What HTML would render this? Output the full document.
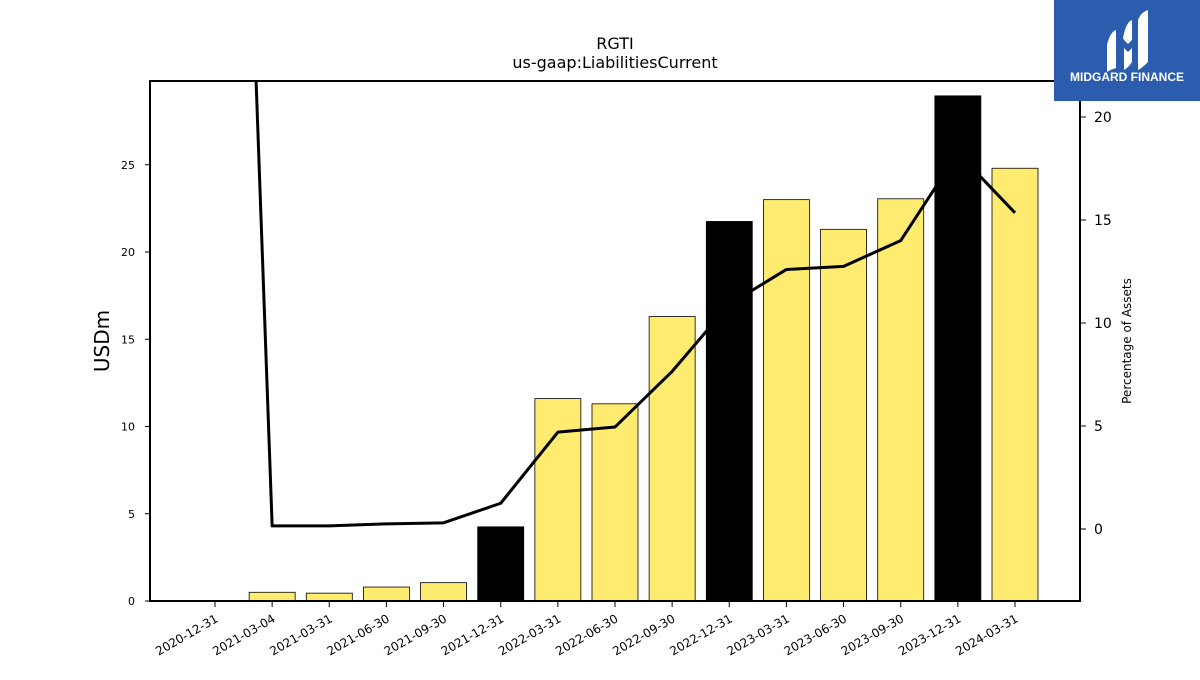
<!DOCTYPE html>
<html><head><meta charset="utf-8"><style>
body{margin:0;background:#fff;width:1200px;height:675px;overflow:hidden;font-family:"Liberation Sans","DejaVu Sans",sans-serif}
</style></head><body>
<svg id="chart" width="1200" height="675" xmlns="http://www.w3.org/2000/svg" font-family="DejaVu Sans, Liberation Sans, sans-serif">
<text x="615" y="49" text-anchor="middle" font-size="16">RGTI</text>
<text x="615" y="68" text-anchor="middle" font-size="16">us-gaap:LiabilitiesCurrent</text>
<g id="yellowBars"></g><g id="line"></g><g id="blackBars"></g><g id="axes"></g>
<text transform="translate(109,341) rotate(-90)" text-anchor="middle" font-size="20">USDm</text>
<text transform="translate(1131,341) rotate(-90)" text-anchor="middle" font-size="12">Percentage of Assets</text>
<g>
<rect x="1054" y="0" width="146" height="101" fill="#2b5cad"/>
<path d="M1107 45 Q1110 32 1116 30 L1116 68 Q1110 70 1107 72Z M1123 38 Q1126 22 1132 20 L1132 40 L1128 44 L1124 40Z M1124 48 L1128 52 L1132 48 L1132 62 Q1128 68 1124 70Z M1138 20 Q1141 12 1148 10 L1148 62 Q1142 68 1138 70Z" fill="#fff"/>
<text x="1127" y="81" text-anchor="middle" font-size="12" font-weight="bold" fill="#fff" font-family="Liberation Sans, sans-serif">MIDGARD FINANCE</text>
</g>
</svg>
<script>
const categories=["2020-12-31","2021-03-04","2021-03-31","2021-06-30","2021-09-30","2021-12-31","2022-03-31","2022-06-30","2022-09-30","2022-12-31","2023-03-31","2023-06-30","2023-09-30","2023-12-31","2024-03-31"];
const barValues=[0,0.5,0.45,0.8,1.05,4.25,11.6,11.3,16.3,21.75,23.0,21.3,23.05,28.95,24.8];
const annual=[false,false,false,false,false,true,false,false,false,true,false,false,false,true,false];
const pctValues=[77,0.15,0.15,0.25,0.3,1.25,4.7,4.95,7.65,10.9,12.6,12.75,14.0,18.25,15.35];
const leftTicks=[0,5,10,15,20,25];
const rightTicks=[0,5,10,15,20];
const NS="http://www.w3.org/2000/svg";
const L=150,R=1080,T=81,B=601;
const x=i=>215+i*(1015-215)/(categories.length-1);
const yL=v=>B-v*(B-T)/29.8;
const yR=v=>529-v*20.6;
function mk(tag,attrs,parent){const e=document.createElementNS(NS,tag);for(const k in attrs)e.setAttribute(k,attrs[k]);parent.appendChild(e);return e;}
const yb=document.getElementById('yellowBars'),bb=document.getElementById('blackBars'),lg=document.getElementById('line'),ax=document.getElementById('axes');
barValues.forEach((v,i)=>{
  const g=annual[i]?bb:yb;
  const r=mk('rect',{x:x(i)-23,y:yL(v),width:46,height:B-yL(v),fill:annual[i]?'#000':'#feeb6f',stroke:'#000','stroke-width':0.8},g);
  
  
});
const cp=mk('clipPath',{id:'clip'},lg);mk('rect',{x:L,y:T,width:R-L,height:B-T},cp);
const pl=mk('polyline',{points:pctValues.map((v,i)=>x(i)+','+yR(v)).join(' '),fill:'none',stroke:'#000','stroke-width':3,'clip-path':'url(#clip)','stroke-linejoin':'round'},lg);


const fr=mk('rect',{x:L,y:T,width:R-L,height:B-T,fill:'none',stroke:'#000','stroke-width':2},ax);


leftTicks.forEach(t=>{
  mk('line',{x1:L-5,x2:L,y1:yL(t),y2:yL(t),stroke:'#000'},ax);
  const tx=mk('text',{x:L-15,y:yL(t)+4,'text-anchor':'end','font-size':11},ax);tx.textContent=t;
  
  
});
rightTicks.forEach(t=>{
  mk('line',{x1:R,x2:R+6,y1:yR(t),y2:yR(t),stroke:'#000'},ax);
  const tx=mk('text',{x:R+14,y:yR(t)+5,'font-size':14},ax);tx.textContent=t;
  
  
});
categories.forEach((c,i)=>{
  mk('line',{x1:x(i),x2:x(i),y1:B,y2:B+6,stroke:'#000'},ax);
  const tx=mk('text',{x:x(i)+4,y:B+20,'text-anchor':'end','font-size':12,transform:`rotate(-30 ${x(i)+4} ${B+20})`},ax);tx.textContent=c;
  
  
});
</script>
</body></html>
